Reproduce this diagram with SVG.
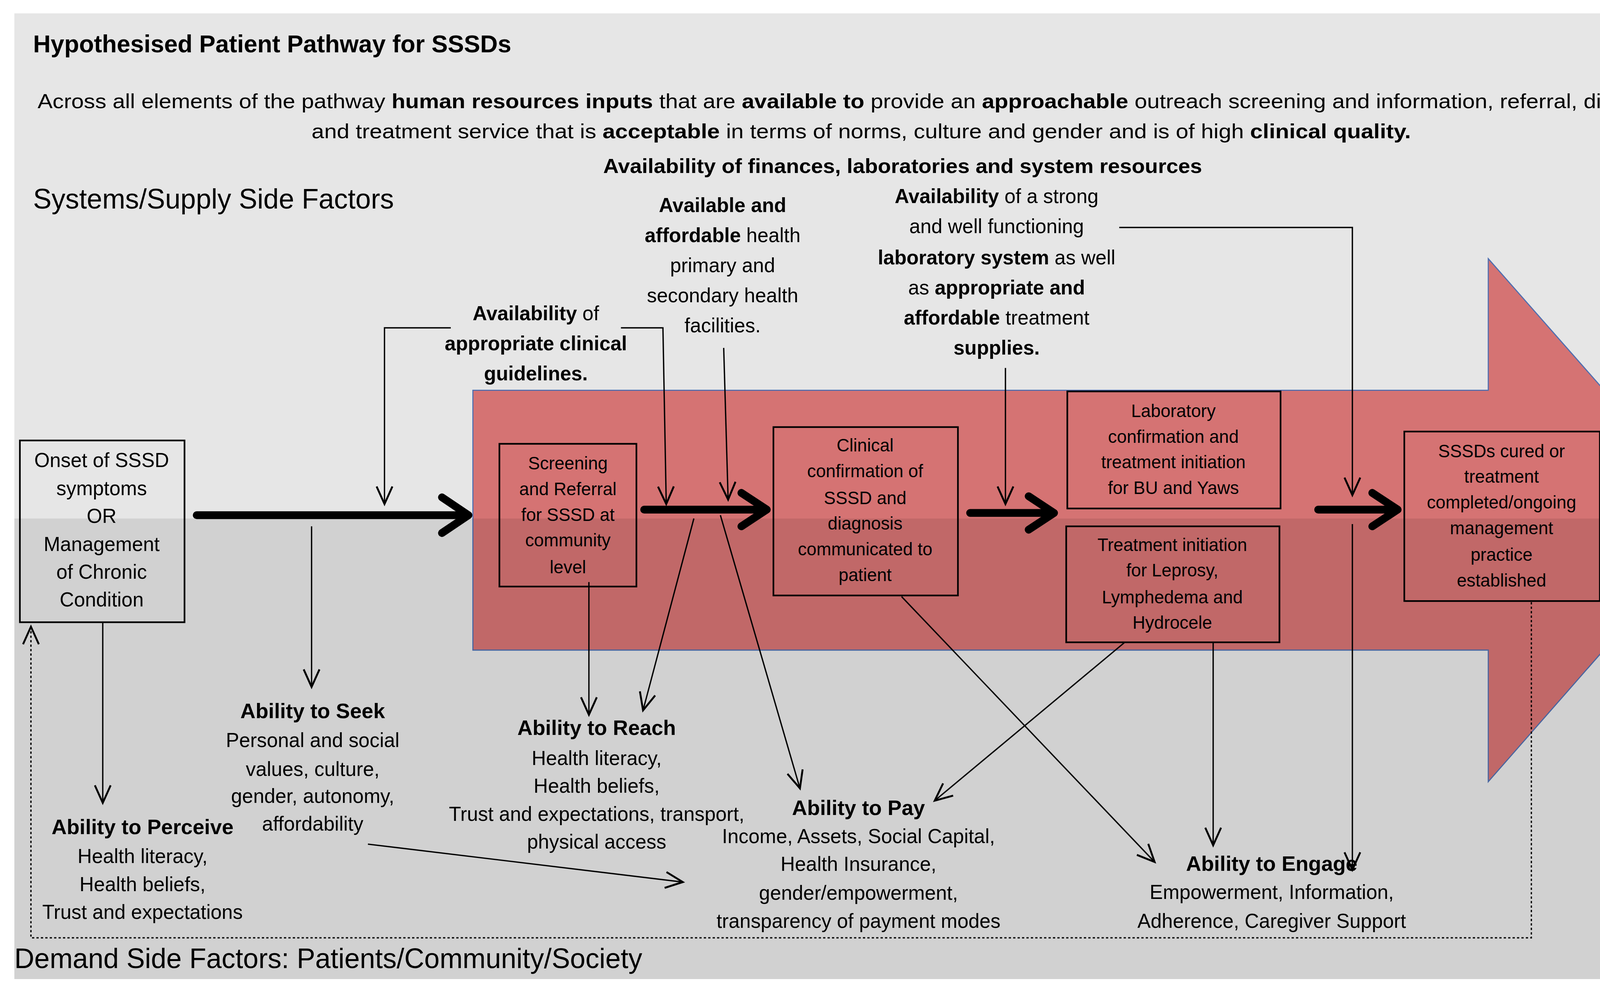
<svg xmlns="http://www.w3.org/2000/svg" width="4435" height="2530" viewBox="0 0 4435 2530">
<defs>
<style>
text{font-family:"Liberation Sans",Arial,sans-serif;font-size:18px;fill:#000}
.c{text-anchor:middle}
.b{font-weight:bold}
.big{font-size:25px}
.h{font-size:19px;font-weight:bold}
.box{fill:none;stroke:#000;stroke-width:1.5}
.ln{fill:none;stroke:#000;stroke-width:1.2}
.thick{fill:none;stroke:#000;stroke-width:7;stroke-linecap:round;stroke-linejoin:round}
</style>
<marker id="ah" markerUnits="userSpaceOnUse" markerWidth="20" markerHeight="20" refX="12" refY="6" orient="auto" viewBox="0 0 14 12">
<path d="M1,1 L12,6 L1,11" fill="none" stroke="#000" stroke-width="1.2"/>
</marker>
</defs>
<rect width="4435" height="2530" fill="#fff"/>
<g transform="scale(2.8285,2.8555)">
<g id="background">
<rect x="13" y="12" width="1542" height="866" fill="#e6e6e6"/>
<path id="bigarrow" d="M428,350 H1347 V232 L1555,466 L1347,701 V583 H428 Z" fill="#d57373" stroke="#4f6fb0" stroke-width="1"/>
</g>
<g id="onset"><rect class="box" x="18" y="395" width="149" height="163"/></g>
<g id="screening"><rect class="box" x="452" y="398" width="124" height="128"/></g>
<g id="clinical"><rect class="box" x="700" y="383" width="167" height="151"/></g>
<g id="lab"><rect class="box" x="966" y="351" width="193" height="105"/></g>
<g id="treatment"><rect class="box" x="965" y="472" width="193" height="104"/></g>
<g id="cured"><rect class="box" x="1271" y="387" width="177" height="152"/></g>
<rect x="13" y="465" width="1542" height="413" fill="#000" opacity="0.09"/>

<g id="connectors">
<path class="thick" d="M178,462 H424 M400,446 L424,462 L400,478"/>
<path class="thick" d="M583,457 H694 M671,442 L694,457 L671,472"/>
<path class="thick" d="M878,460 H954 M931,445 L954,460 L931,475"/>
<path class="thick" d="M1193,457 H1265 M1242,442 L1265,457 L1242,472"/>
<path class="ln" d="M408,294 H348 V452" marker-end="url(#ah)"/>
<path class="ln" d="M562,294 H600 L603,452" marker-end="url(#ah)"/>
<path class="ln" d="M655,312 L659,448" marker-end="url(#ah)"/>
<path class="ln" d="M910,330 V452" marker-end="url(#ah)"/>
<path class="ln" d="M1013,204 H1224 V444" marker-end="url(#ah)"/>
<path class="ln" d="M1224,470 V780" marker-end="url(#ah)"/>
<path class="ln" d="M93,558 V720" marker-end="url(#ah)"/>
<path class="ln" d="M282,472 V616" marker-end="url(#ah)"/>
<path class="ln" d="M533,522 V641" marker-end="url(#ah)"/>
<path class="ln" d="M628,465 L582,637" marker-end="url(#ah)"/>
<path class="ln" d="M652,462 L724,707" marker-end="url(#ah)"/>
<path class="ln" d="M1018,576 L846,718" marker-end="url(#ah)"/>
<path class="ln" d="M816,535 L1045,773" marker-end="url(#ah)"/>
<path class="ln" d="M1098,576 V758" marker-end="url(#ah)"/>
<path class="ln" d="M333,757 L618,791" marker-end="url(#ah)"/>
<path class="ln" d="M1386,540 V841 H28 V562" stroke-dasharray="2,2" marker-end="url(#ah)"/>
</g>

<g id="texts">
<text x="30" y="47" class="b" style="font-size:22px">Hypothesised Patient Pathway for SSSDs</text>
<text x="34" y="97" textLength="1491" lengthAdjust="spacingAndGlyphs">Across all elements of the pathway <tspan class="b">human resources inputs</tspan> that are <tspan class="b">available to</tspan>  provide an <tspan class="b">approachable</tspan> outreach screening and information, referral, diagnostic</text>
<text x="282" y="124" textLength="995" lengthAdjust="spacingAndGlyphs">and treatment service that is  <tspan class="b">acceptable</tspan> in terms of norms, culture and gender and is of high <tspan class="b">clinical quality.</tspan></text>
<text x="817" y="155" class="c b" textLength="542" lengthAdjust="spacingAndGlyphs">Availability of finances, laboratories and system resources</text>
<text x="30" y="187" class="big">Systems/Supply Side Factors</text>
<text x="13" y="868" class="big">Demand Side Factors: Patients/Community/Society</text>

<text class="c" x="485" y="287"><tspan class="b">Availability</tspan> of</text>
<text class="c b" x="485" y="314">appropriate clinical</text>
<text class="c b" x="485" y="341">guidelines.</text>

<text class="c b" x="654" y="190">Available and</text>
<text class="c" x="654" y="217"><tspan class="b">affordable</tspan> health</text>
<text class="c" x="654" y="244">primary and</text>
<text class="c" x="654" y="271">secondary health</text>
<text class="c" x="654" y="298">facilities.</text>

<text class="c" x="902" y="182"><tspan class="b">Availability</tspan> of a strong</text>
<text class="c" x="902" y="209">and well functioning</text>
<text class="c" x="902" y="237"><tspan class="b">laboratory system</tspan> as well</text>
<text class="c" x="902" y="264">as <tspan class="b">appropriate and</tspan></text>
<text class="c" x="902" y="291"><tspan class="b">affordable</tspan> treatment</text>
<text class="c b" x="902" y="318">supplies.</text>

<g>
<text class="c" x="92" y="419">Onset of SSSD</text>
<text class="c" x="92" y="444">symptoms</text>
<text class="c" x="92" y="469">OR</text>
<text class="c" x="92" y="494">Management</text>
<text class="c" x="92" y="519">of Chronic</text>
<text class="c" x="92" y="544">Condition</text>
</g>
<g style="font-size:16px">
<text class="c" x="514" y="421" style="font-size:16px">Screening</text>
<text class="c" x="514" y="444" style="font-size:16px">and Referral</text>
<text class="c" x="514" y="467" style="font-size:16px">for SSSD at</text>
<text class="c" x="514" y="490" style="font-size:16px">community</text>
<text class="c" x="514" y="514" style="font-size:16px">level</text>

<text class="c" x="783" y="405" style="font-size:16px">Clinical</text>
<text class="c" x="783" y="428" style="font-size:16px">confirmation of</text>
<text class="c" x="783" y="452" style="font-size:16px">SSSD and</text>
<text class="c" x="783" y="475" style="font-size:16px">diagnosis</text>
<text class="c" x="783" y="498" style="font-size:16px">communicated to</text>
<text class="c" x="783" y="521" style="font-size:16px">patient</text>

<text class="c" x="1062" y="374" style="font-size:16px">Laboratory</text>
<text class="c" x="1062" y="397" style="font-size:16px">confirmation and</text>
<text class="c" x="1062" y="420" style="font-size:16px">treatment initiation</text>
<text class="c" x="1062" y="443" style="font-size:16px">for BU and Yaws</text>

<text class="c" x="1061" y="494" style="font-size:16px">Treatment initiation</text>
<text class="c" x="1061" y="517" style="font-size:16px">for Leprosy,</text>
<text class="c" x="1061" y="541" style="font-size:16px">Lymphedema and</text>
<text class="c" x="1061" y="564" style="font-size:16px">Hydrocele</text>

<text class="c" x="1359" y="410" style="font-size:16px">SSSDs cured or</text>
<text class="c" x="1359" y="433" style="font-size:16px">treatment</text>
<text class="c" x="1359" y="456" style="font-size:16px">completed/ongoing</text>
<text class="c" x="1359" y="479" style="font-size:16px">management</text>
<text class="c" x="1359" y="503" style="font-size:16px">practice</text>
<text class="c" x="1359" y="526" style="font-size:16px">established</text>
</g>

<text class="c h" x="283" y="644">Ability to Seek</text>
<text class="c" x="283" y="670">Personal and social</text>
<text class="c" x="283" y="696">values, culture,</text>
<text class="c" x="283" y="720">gender, autonomy,</text>
<text class="c" x="283" y="745">affordability</text>

<text class="c h" x="129" y="748">Ability to Perceive</text>
<text class="c" x="129" y="774">Health literacy,</text>
<text class="c" x="129" y="799">Health beliefs,</text>
<text class="c" x="129" y="824">Trust and expectations</text>

<text class="c h" x="540" y="659">Ability to Reach</text>
<text class="c" x="540" y="686">Health literacy,</text>
<text class="c" x="540" y="711">Health beliefs,</text>
<text class="c" x="540" y="736">Trust and expectations, transport,</text>
<text class="c" x="540" y="761">physical access</text>

<text class="c h" x="777" y="731">Ability to Pay</text>
<text class="c" x="777" y="756">Income, Assets, Social Capital,</text>
<text class="c" x="777" y="781">Health Insurance,</text>
<text class="c" x="777" y="807">gender/empowerment,</text>
<text class="c" x="777" y="832">transparency of payment modes</text>

<text class="c h" x="1151" y="781">Ability to Engage</text>
<text class="c" x="1151" y="806">Empowerment, Information,</text>
<text class="c" x="1151" y="832">Adherence, Caregiver Support</text>
</g>
</g>
</svg>
